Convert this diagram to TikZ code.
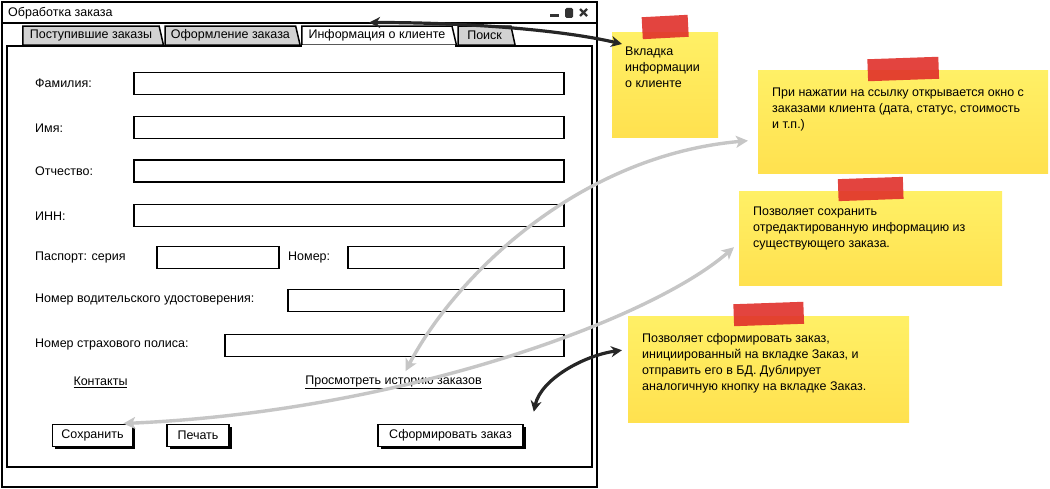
\documentclass[tikz,border=0pt]{standalone}
\usepackage{fontspec}
\setmainfont{Liberation Sans}
\usepackage{tikz}
\usetikzlibrary{positioning, calc, arrows.meta, shadows, shapes.geometric}

\definecolor{tabgray}{HTML}{D2D2D2}
\definecolor{noteyellow}{HTML}{FFE14F}
\definecolor{notelight}{HTML}{FFF066}
\definecolor{tapered}{HTML}{E0302A}
\definecolor{linkgray}{HTML}{C6C6C6}

\tikzset{
  frame/.style={draw, line width=1.5pt},
  lbl/.style={anchor=west, inner sep=0pt, font=\fontsize{12.5}{14}\selectfont},
  field/.style={draw, line width=1.8pt, anchor=west, minimum height=22pt, inner sep=0pt},
  link/.style={inner sep=0pt, font=\fontsize{12.5}{14}\selectfont},
  btn/.style={draw, line width=1.6pt, fill=white, minimum height=22pt, inner sep=0pt,
    font=\fontsize{12.5}{14}\selectfont,
    drop shadow={shadow xshift=2.5pt, shadow yshift=-2.5pt, fill=black, opacity=1}},
  tab/.style={trapezium, trapezium left angle=90, trapezium right angle=70,
    trapezium stretches=true, draw, line width=1.5pt, fill=tabgray,
    minimum height=19pt, inner xsep=3pt, inner ysep=0pt, font=\fontsize{12.5}{14}\selectfont},
  note/.style={top color=notelight, bottom color=noteyellow, anchor=north west, inner sep=0pt},
  tape/.style={fill=tapered, opacity=0.9, minimum height=22pt, inner sep=0pt},
  notetext/.style={inner sep=0pt, align=left, font=\fontsize{12.5}{16}\selectfont},
  blackarrow/.style={arrows={Stealth[length=11pt,width=11pt]-Stealth[length=11pt,width=11pt]},
    line width=3.2pt, black!85},
  grayarrow/.style={arrows={Stealth[length=12pt,width=12pt,inset=3pt]-Stealth[length=12pt,width=12pt,inset=3pt]},
    line width=3.4pt, linkgray}
}

\begin{document}
\begin{tikzpicture}[x=1pt, y=-1pt]
    \useasboundingbox (0,0) rectangle (1050,489);

    % window
    \draw[frame] (2,2) rectangle (597,487);
    \draw[frame] (2,23) -- (597,23);
    \node[lbl] (title) at (8,13) {Обработка заказа};
    \draw[line width=3pt, black!80] (550,16) -- (559,16);
    \fill[black!80, rounded corners=1.5pt] (565,8) rectangle (573,18);
    \draw[line width=2.4pt, black!80] (580,9) -- (587,16) (580,16) -- (587,9);

    % panel and tabs
    \draw[frame, fill=white] (7,46) rectangle (592,467);
    \node[tab, minimum width=141pt, anchor=bottom left corner] (tabIn)   at (22,46) {Поступившие заказы};
    \node[tab, minimum width=135pt, anchor=bottom left corner] (tabOrd)  at (tabIn.bottom right corner) {Оформление заказа};
    \node[tab, minimum width=155pt, fill=white, anchor=bottom left corner] (tabInfo) at (tabOrd.bottom right corner) {Информация о клиенте};
    \node[tab, minimum width=57pt, anchor=bottom left corner] (tabFind) at (tabInfo.bottom right corner) {Поиск};
    \draw[white, line width=2.6pt] ([xshift=1pt]tabInfo.bottom left corner) -- ([xshift=-2pt]tabInfo.bottom right corner);

    % fields
    \node[lbl] (famLbl) at (35,83)  {Фамилия:};
    \node[lbl] (nameLbl) at (35,128) {Имя:};
    \node[lbl] (patrLbl) at (35,171) {Отчество:};
    \node[lbl] (innLbl) at (35,216) {ИНН:};
    \node[lbl] (serLbl) at (35,257) {Паспорт: серия};
    \node[lbl] (numLbl) at (288,257) {Номер:};
    \node[lbl] (drvLbl) at (35,299) {Номер водительского удостоверения:};
    \node[lbl] (insLbl) at (35,344) {Номер страхового полиса:};

    \node[field, minimum width=430pt] (famBox)  at (133,83.5)  {};
    \node[field, minimum width=430pt] (nameBox) at (133,127.5) {};
    \node[field, minimum width=430pt] (patrBox) at (133,171)   {};
    \node[field, minimum width=430pt] (innBox)  at (133,215.5) {};
    \node[field, minimum width=122pt] (serBox)  at (156,257.5) {};
    \node[field, minimum width=216pt] (numBox)  at (347,257.5) {};
    \node[field, minimum width=276pt] (drvBox)  at (287,300.5) {};
    \node[field, minimum width=339pt] (insBox)  at (224,345.5) {};

    % links and buttons
    \node[link] (contLink) at (100.5,382) {\underline{Контакты}};
    \node[link] (histLink) at (393.5,382) {\underline{Просмотреть историю заказов}};

    \node[btn, minimum width=80pt]  (saveBtn)  at (92.5,435.5) {Сохранить};
    \node[btn, minimum width=62pt]  (printBtn) at (198,435.5)  {Печать};
    \node[btn, minimum width=145pt] (formBtn)  at (450.5,435.5) {Сформировать заказ};

    % notes
    \node[note, minimum width=106pt, minimum height=105pt] (note1) at (612,32)  {};
    \node[note, minimum width=290pt, minimum height=103pt] (note2) at (758,70)  {};
    \node[note, minimum width=263pt, minimum height=94pt]  (note3) at (739,191) {};
    \node[note, minimum width=281pt, minimum height=106pt] (note4) at (628,316) {};

    \node[tape, minimum width=46pt, rotate=3] (tape1) at ([yshift=5pt]note1.north) {};
    \node[tape, minimum width=71pt, rotate=2] (tape2) at ([yshift=1pt]note2.north) {};
    \node[tape, minimum width=65pt, rotate=2] (tape3) at ([yshift=2pt]note3.north) {};
    \node[tape, minimum width=70pt, rotate=2] (tape4) at ([yshift=2pt]note4.north) {};

    \node[notetext, below right=15pt and 13pt of note1.north west] (text1)
        {Вкладка\\информации\\о клиенте};
    \node[notetext, below right=18pt and 14pt of note2.north west] (text2)
        {При нажатии на ссылку открывается окно с\\заказами клиента (дата, статус, стоимость\\и т.п.)};
    \node[notetext, below right=16pt and 14pt of note3.north west] (text3)
        {Позволяет сохранить\\отредактированную информацию из\\существующего заказа.};
    \node[notetext, below right=17pt and 14pt of note4.north west] (text4)
        {Позволяет сформировать заказ,\\инициированный на вкладке Заказ, и\\отправить его в БД. Дублирует\\аналогичную кнопку на вкладке Заказ.};

    % arrows
    \draw[grayarrow] ($(histLink.north)+(12,-4)$) .. controls +(50,-95) and +(-170,15) .. ($(note2.west)+(-10,19)$);
    \draw[grayarrow] ($(saveBtn.east)+(-10,-12)$) .. controls +(277,-12) and +(-84,73) .. ($(note3.west)+(-5,9)$);
    \draw[blackarrow] ($(tabInfo.top left corner)+(68,-3)$) .. controls +(100,0) and +(-60,-14) .. ($(note1.north west)+(10,12)$);
    \draw[blackarrow] ($(formBtn.north east)+(10,-12)$) .. controls +(7,-33) and +(-37,5) .. ($(note4.west)+(-6,-19)$);
\end{tikzpicture}
\end{document}
